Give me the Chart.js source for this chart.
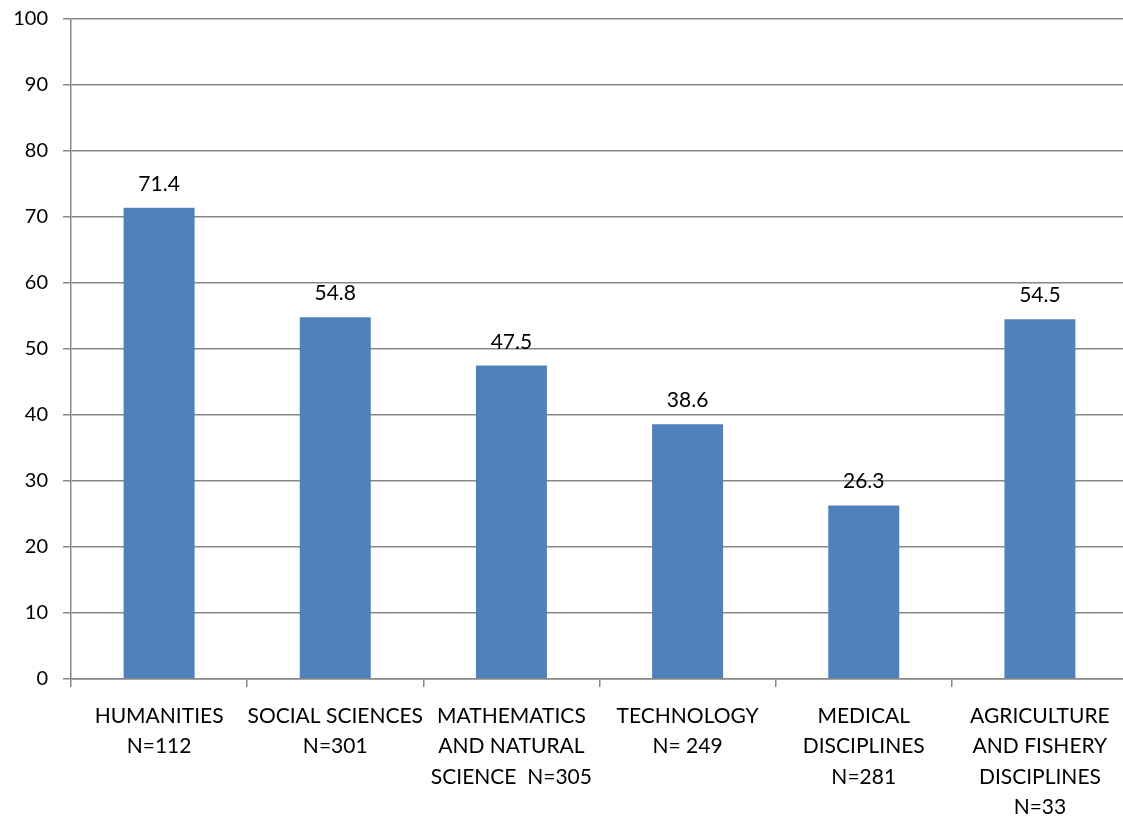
<!DOCTYPE html>
<html>
<head>
<meta charset="utf-8">
<script src="https://cdn.jsdelivr.net/npm/chart.js@4/dist/chart.umd.min.js"></script>
<style>
  html, body { margin: 0; padding: 0; background: #fff; overflow: hidden; }
  #wrap { width: 1128px; height: 823px; }
</style>
</head>
<body>
<div id="wrap"><canvas id="myChart" width="1128" height="823"></canvas></div>
<script>
// categories (one array per label line) and share values
var fields = [
    ['HUMANITIES', 'N=112'],
    ['SOCIAL SCIENCES', 'N=301'],
    ['MATHEMATICS', 'AND NATURAL', 'SCIENCE  N=305'],
    ['TECHNOLOGY', 'N= 249'],
    ['MEDICAL', 'DISCIPLINES', 'N=281'],
    ['AGRICULTURE', 'AND FISHERY', 'DISCIPLINES', 'N=33']
];
var shares = [71.4, 54.8, 47.5, 38.6, 26.3, 54.5];
var yTicks = [0, 10, 20, 30, 40, 50, 60, 70, 80, 90, 100];

var gridGrey = '#878787';
var family = 'Lato, "Open Sans", sans-serif';

// writes the value above each bar
var valueLabels = {
    id: 'valueLabels',
    afterDatasetsDraw: function(chart) {
        var ctx = chart.ctx;
        var meta = chart.getDatasetMeta(0);
        ctx.save();
        ctx.font = '21px ' + family;
        ctx.fillStyle = '#000';
        ctx.textAlign = 'center';
        ctx.textBaseline = 'alphabetic';
        meta.data.forEach(function(bar, i) {
            ctx.fillText(shares[i].toFixed(1), bar.x, bar.y - 17);
        });
        ctx.restore();
    }
};

var ctx = document.getElementById('myChart').getContext('2d');
var myChart = new Chart(ctx, {
    type: 'bar',
    data: {
        labels: fields,
        datasets: [{
            data: shares,
            backgroundColor: '#4F81BD',
            borderWidth: 0,
            categoryPercentage: 1,
            barPercentage: 0.403
        }]
    },
    options: {
        responsive: false,
        animation: false,
        layout: { padding: { top: 19, left: 0, right: 0, bottom: 0 } },
        plugins: {
            legend: { display: false },
            tooltip: { enabled: false }
        },
        scales: {
            x: {
                grid: {
                    offset: true,
                    drawOnChartArea: false,
                    drawTicks: true,
                    tickLength: 8,
                    color: gridGrey,
                    lineWidth: 1.5
                },
                border: { color: gridGrey, width: 1.5 },
                ticks: {
                    color: '#000',
                    font: { family: family, size: 21, lineHeight: 1.45 },
                    padding: 14,
                    maxRotation: 0,
                    autoSkip: false
                },
                afterFit: function(scale) {
                    scale.height = 144;
                    scale.paddingLeft = 0;
                    scale.paddingRight = 0;
                }
            },
            y: {
                min: 0,
                max: 100,
                afterBuildTicks: function(scale) {
                    scale.ticks = yTicks.map(function(v) { return { value: v }; });
                },
                grid: {
                    color: gridGrey,
                    lineWidth: 1.5,
                    tickLength: 8
                },
                border: { color: gridGrey, width: 1.5 },
                ticks: {
                    color: '#000',
                    font: { family: family, size: 20 },
                    padding: 15
                },
                afterFit: function(scale) {
                    scale.width = 71;
                    scale.paddingTop = 0;
                    scale.paddingBottom = 0;
                }
            }
        }
    },
    plugins: [valueLabels]
});
</script>
</body>
</html>
